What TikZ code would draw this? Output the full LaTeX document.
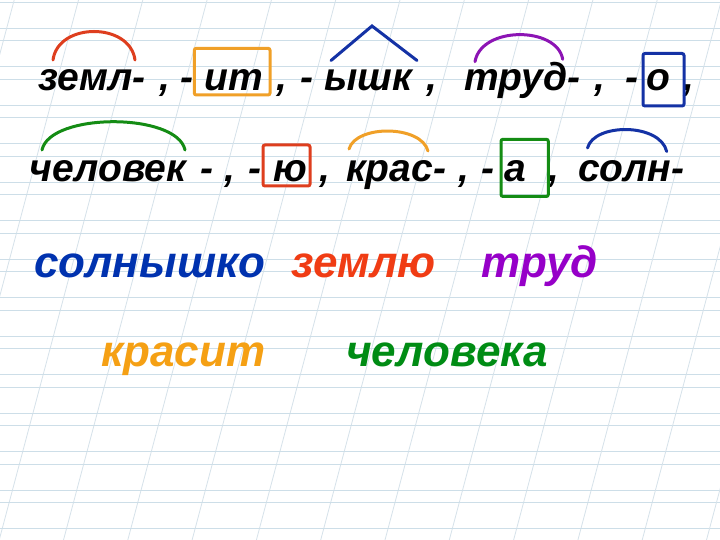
\documentclass[tikz,border=0pt]{standalone}
\usepackage{fontspec}
\setmainfont{Liberation Sans}
\definecolor{gridh}{RGB}{205,222,232}
\definecolor{grids}{RGB}{214,226,234}
\definecolor{wblue}{RGB}{0,50,175}
\definecolor{wred}{RGB}{240,60,20}
\definecolor{wpurple}{RGB}{150,0,200}
\definecolor{worange}{RGB}{245,160,20}
\definecolor{wgreen}{RGB}{0,140,20}
\definecolor{mred}{RGB}{222,62,30}
\definecolor{morange}{RGB}{240,160,40}
\definecolor{mblue}{RGB}{20,50,165}
\definecolor{mpurple}{RGB}{140,20,180}
\definecolor{mgreen}{RGB}{20,140,20}
\begin{document}
\begin{tikzpicture}[x=1pt,y=-1pt,
  txt/.style={anchor=base west, inner sep=0pt, font=\fontsize{39}{39}\selectfont\bfseries\itshape},
  big/.style={anchor=base west, inner sep=0pt, font=\fontsize{44}{44}\selectfont\bfseries\itshape},
  morph/.style={line width=3pt, line cap=round},
  boxm/.style={line width=3pt, rounded corners=2pt},
  hline/.style={draw=gridh, line width=1.1pt},
  sline/.style={draw=grids, line width=0.8pt}]
\fill[white] (0,0) rectangle (720,540);
\useasboundingbox (0,0) rectangle (720,540);
% notebook grid
\foreach \k in {0,...,13} {
  \draw[hline] (0,{28.2+38.5*\k}) -- (720,{28.2+38.5*\k});
  \draw[hline] (0,{2.3+38.5*\k}) -- (720,{2.3+38.5*\k});
  \draw[sline] ({14.2+64.3*\k},0) -- ({14.2+64.3*\k-143.6},540);
}
% row 1
\node[txt] (r1a) at (38,91) {земл-};
\node[txt] (r1b) at (159,91) {,};
\node[txt] (r1c) at (180,91) {-};
\node[txt] (r1d) at (204,91) {ит};
\node[txt] (r1e) at (276,91) {,};
\node[txt] (r1f) at (300,91) {-};
\node[txt] (r1g) at (324,91) {ышк};
\node[txt] (r1h) at (426,91) {,};
\node[txt] (r1i) at (464,91) {труд-};
\node[txt] (r1j) at (594,91) {,};
\node[txt] (r1k) at (625,91) {-};
\node[txt] (r1l) at (646,91) {о};
\node[txt] (r1m) at (683,91) {,};
% row 2
\node[txt] (r2a) at (29.5,181.5) {человек};
\node[txt] (r2b) at (200,181.5) {-};
\node[txt] (r2c) at (224,181.5) {,};
\node[txt] (r2d) at (248,181.5) {-};
\node[txt] (r2e) at (273,181.5) {ю};
\node[txt] (r2f) at (319,181.5) {,};
\node[txt] (r2g) at (346,181.5) {крас-};
\node[txt] (r2h) at (458,181.5) {,};
\node[txt] (r2i) at (481,181.5) {-};
\node[txt] (r2j) at (504,181.5) {а};
\node[txt] (r2k) at (548,181.5) {,};
\node[txt] (r2l) at (578,181.5) {солн-};
% morpheme marks
\draw[morph, mred] (53,60) .. controls (58,22) and (130,22) .. (135,60);
\draw[boxm, morange] (194.3,48.3) rectangle (270,95);
\draw[morph, mblue] (331,60.5) -- (372,26) -- (417,60.5);
\draw[morph, mpurple] (475,61.7) .. controls (481,26) and (557,26) .. (562.7,59.3);
\draw[boxm, mblue] (643,53.5) rectangle (684,106);
\draw[morph, mgreen] (42,150) .. controls (50,112.3) and (177,112.3) .. (185,150);
\draw[boxm, mred] (263,145) rectangle (310,186);
\draw[morph, morange] (349,149) .. controls (356,124.7) and (421,124.7) .. (428,151);
\draw[boxm, mgreen] (501,139.3) rectangle (548.3,196.5);
\draw[morph, mblue] (587.5,148) .. controls (594,122.8) and (660,122.8) .. (666.7,151.5);
% answers
\node[big, text=wblue] (w1) at (34,277) {солнышко};
\node[big, text=wred] (w2) at (291,277) {землю};
\node[big, text=wpurple] (w3) at (481,277) {труд};
\node[big, text=worange] (w4) at (101,366) {красит};
\node[big, text=wgreen] (w5) at (346,366) {человека};
\end{tikzpicture}
\end{document}
